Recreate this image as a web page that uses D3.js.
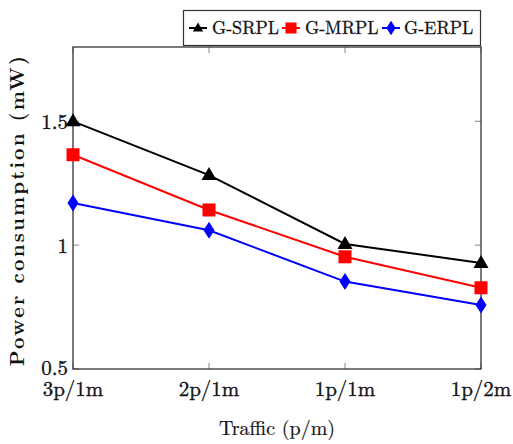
<!DOCTYPE html>
<html><head><meta charset="utf-8">
<script src="https://cdn.jsdelivr.net/npm/d3@7"></script>
<style>body{margin:0;background:#fff}svg{display:block}</style>
</head><body><svg id="c" width="513" height="444"></svg>
<script>
const categories = ["3p/1m","2p/1m","1p/1m","1p/2m"];
const srpl = [1.50, 1.283, 1.005, 0.928];
const mrpl = [1.365, 1.142, 0.953, 0.828];
const erpl = [1.170, 1.060, 0.853, 0.758];
const seriesNames = ["G-SRPL","G-MRPL","G-ERPL"];
const yTicks = [0.5, 1, 1.5];

const FONT = "'Latin Modern Roman'";
const svg = d3.select("#c");
const L=73, R=481, T=47, B=369;
const x = d3.scalePoint().domain(categories).range([L,R]);
const y = d3.scaleLinear().domain([0.5,1.8]).range([B,T]);

const series = [
  {name:seriesNames[0], vals:srpl, color:"#000", shape:"tri"},
  {name:seriesNames[1], vals:mrpl, color:"#f00", shape:"sq"},
  {name:seriesNames[2], vals:erpl, color:"#00f", shape:"dia"}
];

const tg = svg.append("g").attr("stroke","#999").attr("stroke-width",1.2);
categories.forEach(c=>{
  tg.append("line").attr("x1",x(c)).attr("x2",x(c)).attr("y1",B).attr("y2",B-6);
  tg.append("line").attr("x1",x(c)).attr("x2",x(c)).attr("y1",T).attr("y2",T+6);
});
yTicks.forEach(v=>{
  tg.append("line").attr("x1",L).attr("x2",L+6).attr("y1",y(v)).attr("y2",y(v));
  tg.append("line").attr("x1",R).attr("x2",R-6).attr("y1",y(v)).attr("y2",y(v));
});
svg.append("rect").attr("x",L).attr("y",T).attr("width",R-L).attr("height",B-T)
  .attr("fill","none").attr("stroke","#333").attr("stroke-width",1.3);

svg.append("g").selectAll("text").data(yTicks).join("text")
  .style("font-family",FONT)
  .attr("x",L-5).attr("y",d=>y(d)+(d===0.5?6:8)).attr("text-anchor","end")
  .attr("font-size",21).attr("fill","#111").attr("stroke","#111").attr("stroke-width",0.35)
  .text(d=>d);
svg.append("g").selectAll("text").data(categories).join("text")
  .style("font-family",FONT)
  .attr("x",d=>x(d)).attr("y",B+27).attr("text-anchor","middle")
  .attr("font-size",21).attr("fill","#111").attr("stroke","#111").attr("stroke-width",0.35)
  .text(d=>d);

svg.append("text").style("font-family",FONT).attr("x",277).attr("y",435).attr("text-anchor","middle")
  .attr("font-size",20).attr("fill","#111").attr("stroke","#111").attr("stroke-width",0.2).text("Traffic (p/m)");
svg.append("text").style("font-family",FONT).attr("transform",`translate(24,${(T+B)/2+2}) rotate(-90)`)
  .attr("text-anchor","middle").attr("font-size",20).attr("font-weight","bold")
  .attr("letter-spacing",2.2).attr("fill","#111").text("Power consumption (mW)");

function marker(g, shape, color, cx, cy){
  if(shape==="tri"){
    g.append("path").attr("d",`M${cx},${cy-8}L${cx+7.5},${cy+5}L${cx-7.5},${cy+5}Z`).attr("fill",color);
  } else if(shape==="sq"){
    g.append("rect").attr("x",cx-6.5).attr("y",cy-6.5).attr("width",13).attr("height",13).attr("fill",color);
  } else {
    g.append("path").attr("d",`M${cx},${cy-8.5}L${cx+5.5},${cy}L${cx},${cy+8.5}L${cx-5.5},${cy}Z`).attr("fill",color);
  }
}
const line = d3.line().x((d,i)=>x(categories[i])).y(d=>y(d));
series.forEach(s=>{
  svg.append("path").attr("d",line(s.vals)).attr("fill","none").attr("stroke",s.color).attr("stroke-width",2);
});
series.forEach(s=>{
  const g = svg.append("g");
  s.vals.forEach((v,i)=>marker(g,s.shape,s.color,x(categories[i]),y(v)));
});

const lg = svg.append("g");
lg.append("rect").attr("x",183.5).attr("y",10.5).attr("width",297).attr("height",35)
  .attr("fill","#fff").attr("stroke","#333").attr("stroke-width",1.2);
const lx = [189, 282, 382];
const tx = [212, 305, 404];
series.forEach((s,i)=>{
  lg.append("line").attr("x1",lx[i]).attr("x2",lx[i]+18).attr("y1",28).attr("y2",28).attr("stroke",s.color).attr("stroke-width",2);
  const sc = s.shape==="tri"?0.7:0.85;
  const g = lg.append("g").attr("transform",`translate(${lx[i]+9},28) scale(${sc}) translate(${-(lx[i]+9)},-28)`);
  marker(g,s.shape,s.color,lx[i]+9,28);
  lg.append("text").style("font-family",FONT).attr("x",tx[i]).attr("y",34).attr("font-size",18)
    .attr("fill","#111").attr("stroke","#111").attr("stroke-width",0.3).text(s.name);
});
</script></body></html>
